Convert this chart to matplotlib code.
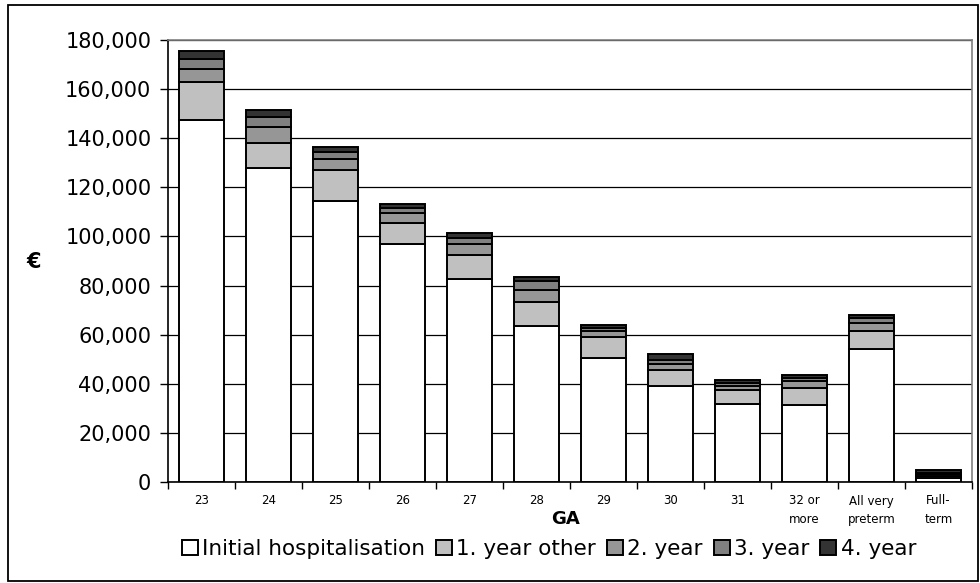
import matplotlib
matplotlib.use("Agg")
import matplotlib.pyplot as plt
from matplotlib.patches import Rectangle
import numpy as np

# Cost per child by gestational age (EUR), stacked by cost component
categories = ["23", "24", "25", "26", "27", "28", "29", "30", "31",
              "32 or\nmore", "All very\npreterm", "Full-\nterm"]
initial_hosp = [147300, 128000, 114500, 97000, 82700, 63600, 50700, 39100, 31700, 31400, 54100, 1500]
year1_other  = [15400, 10100, 12600, 8400, 9800, 9900, 8300, 6500, 5800, 7050, 7450, 1000]
year2        = [5600, 6500, 4600, 4300, 4500, 4750, 2550, 2450, 1650, 2700, 3150, 700]
year3        = [3900, 4200, 2850, 1800, 2300, 3650, 1100, 1650, 1350, 1350, 2050, 600]
year4        = [3300, 2700, 2050, 1750, 2050, 1750, 1350, 2300, 1100, 1100, 1350, 1100]

series = [
    ("Initial hospitalisation", initial_hosp, "#ffffff"),
    ("1. year other", year1_other, "#c0c0c0"),
    ("2. year", year2, "#969696"),
    ("3. year", year3, "#808080"),
    ("4. year", year4, "#333333"),
]

plt.rcParams["font.family"] = ["DejaVu Sans"]

fig = plt.figure(figsize=(9.8, 5.83), dpi=100)
ax = fig.add_axes([168 / 980, 1 - 482 / 583, (972 - 168) / 980, (482 - 40) / 583])

x = np.arange(len(categories))
bottom = np.zeros(len(categories))
handles = []
for name, vals, color in series:
    vals = np.asarray(vals, dtype=float)
    b = ax.bar(x, vals, width=0.66, bottom=bottom, color=color,
               edgecolor="black", linewidth=1.4, label=name, zorder=3)
    handles.append(b)
    bottom += vals

ax.set_xlim(-0.5, len(categories) - 0.5)
ax.set_ylim(0, 180000)
ax.set_yticks(np.arange(0, 180001, 20000))
ax.set_yticklabels([f"{v:,}" for v in range(0, 180001, 20000)], fontsize=15)
ax.yaxis.grid(True, color="black", linewidth=0.9, zorder=0)
ax.set_axisbelow(True)

ax.set_xticks(x)
ax.set_xticklabels(categories, fontsize=8.5, linespacing=1.55)
ax.set_xticks(np.arange(-0.5, len(categories), 1.0), minor=True)
ax.tick_params(axis="x", which="major", length=0, pad=9)
ax.tick_params(axis="x", which="minor", length=5, width=1, color="black")
ax.tick_params(axis="y", which="major", length=6, width=1, color="black", pad=6)

for side in ("left", "bottom"):
    ax.spines[side].set_color("black")
    ax.spines[side].set_linewidth(1.2)
for side in ("right", "top"):
    ax.spines[side].set_color("#808080")
    ax.spines[side].set_linewidth(1.2)

fig.text(565 / 980, 1 - 519 / 583, "GA", fontsize=13, fontweight="bold",
         ha="center", va="center")
fig.text(34 / 980, 1 - 262 / 583, "€", fontsize=15, fontweight="bold",
         ha="center", va="center")

fig.legend(handles=handles, labels=[s[0] for s in series], loc="center",
           bbox_to_anchor=(549 / 980, 1 - 549 / 583), ncol=5, frameon=False,
           fontsize=15.5, handlelength=0.75, handleheight=0.75, handletextpad=0.2,
           columnspacing=0.5, borderaxespad=0)

# outer frame around the whole chart
fig.patches.append(Rectangle((8 / 980, 2 / 583), 970 / 980, 576 / 583,
                             transform=fig.transFigure, fill=False,
                             edgecolor="black", linewidth=1.3))

fig.savefig("out.png", dpi=100)
